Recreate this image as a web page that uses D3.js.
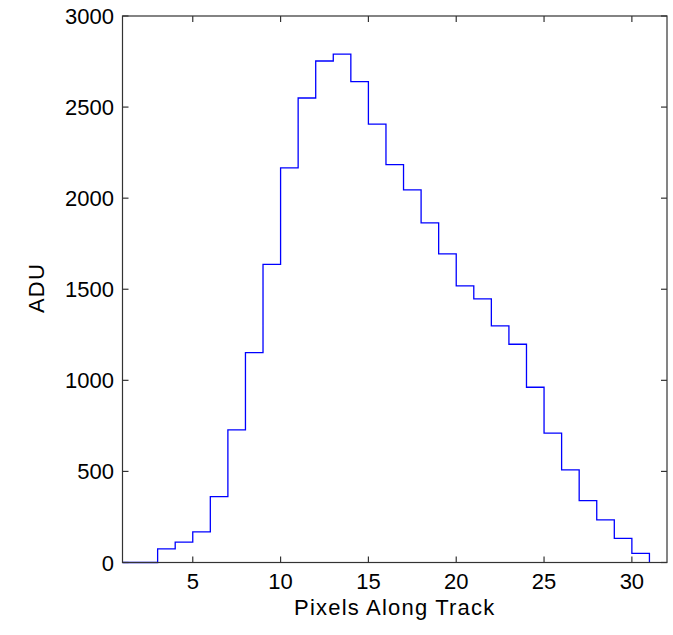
<!DOCTYPE html>
<html>
<script src='https://d3js.org/d3.v7.min.js'></script>
<style>
 body {margin: 0; background: #fff;}
 text {font-family: 'Liberation Sans', Arial, sans-serif; font-size: 22px; fill: #000;}
 .title {letter-spacing: 1.2px;}
</style>
<body onload='init()'>
<svg width=673 height=635></svg>
<script>
// pixel position along the track, and the ADU value in each one
var pixels = d3.range(1, 32);
var adu = [0, 0, 75, 112, 168, 362, 728, 1152, 1637, 2166, 2550, 2753, 2791, 2640, 2406, 2184,
           2045, 1864, 1694, 1518, 1447, 1299, 1198, 962, 710, 509, 340, 234, 132, 50, 0];
var xTicks = [5, 10, 15, 20, 25, 30];
var yTicks = [0, 500, 1000, 1500, 2000, 2500, 3000];

function init() {
 var svg = d3.select("svg");
 var left = 122.5, right = 667, top = 16, bottom = 562.5;
 var x = d3.scaleLinear().domain([1, 32]).range([left, right]);
 var y = d3.scaleLinear().domain([0, 3000]).range([bottom, top]);
 var tick = 6;

 var data = pixels.map(function (p, i) { return [p, adu[i]]; });
 svg.append("path")
  .datum(data)
  .attr("fill", "none")
  .attr("stroke", "#0000ff")
  .attr("stroke-width", 1.3)
  .attr("d", d3.line().x(function (d) { return x(d[0]); }).y(function (d) { return y(d[1]); }).curve(d3.curveStepAfter));

 // box and inward ticks, matlab style
 var ax = svg.append("g").attr("stroke", "#333").attr("stroke-width", 1.2).attr("fill", "none");
 ax.append("rect").attr("x", left).attr("y", top).attr("width", right - left).attr("height", bottom - top);
 xTicks.forEach(function (t) {
  ax.append("line").attr("x1", x(t)).attr("x2", x(t)).attr("y1", bottom).attr("y2", bottom - tick);
  ax.append("line").attr("x1", x(t)).attr("x2", x(t)).attr("y1", top).attr("y2", top + tick);
 });
 yTicks.forEach(function (t) {
  ax.append("line").attr("x1", left).attr("x2", left + tick).attr("y1", y(t)).attr("y2", y(t));
  ax.append("line").attr("x1", right).attr("x2", right - tick).attr("y1", y(t)).attr("y2", y(t));
 });

 svg.append("g").selectAll("text").data(xTicks).enter().append("text")
  .attr("x", function (d) { return x(d); })
  .attr("y", 589)
  .attr("text-anchor", "middle")
  .text(function (d) { return d; });
 svg.append("g").selectAll("text").data(yTicks).enter().append("text")
  .attr("x", 114)
  .attr("y", function (d) { return y(d) + 8; })
  .attr("text-anchor", "end")
  .text(function (d) { return d; });

 svg.append("text").attr("class", "title").attr("x", (left + right) / 2).attr("y", 615).attr("text-anchor", "middle").text("Pixels Along Track");
 svg.append("text").attr("class", "title").attr("transform", "translate(43.5,288) rotate(-90)").attr("text-anchor", "middle").text("ADU");
}
</script>
</body>
</html>
